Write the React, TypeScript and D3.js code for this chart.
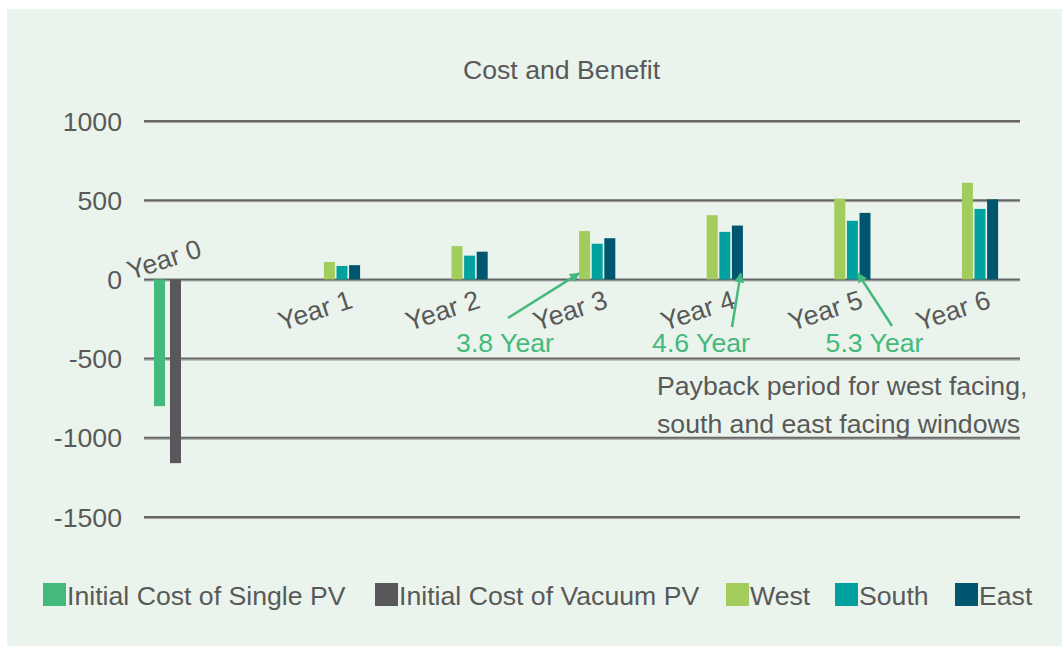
import React from "react";
import * as d3 from "d3";

// ---- data ----
const years = ["Year 1", "Year 2", "Year 3", "Year 4", "Year 5", "Year 6"];
const costLabel = "Year 0";
const costSeries = ["Initial Cost of Single PV", "Initial Cost of Vacuum PV"];
const costValues = [-800, -1160];
const benefitSeries = ["West", "South", "East"];
const westValues = [110, 210, 305, 405, 510, 610];
const southValues = [85, 150, 225, 300, 370, 445];
const eastValues = [90, 175, 260, 340, 420, 505];
const yTicks = [1000, 500, 0, -500, -1000, -1500];
const paybackLabels = ["3.8 Year", "4.6 Year", "5.3 Year"];
const paybackYears = ["Year 3", "Year 4", "Year 5"];
const paybackSeries = ["West", "East", "South"];
const noteLines = ["Payback period for west facing,", "south and east facing windows"];

const colors: Record<string, string> = {
  "Initial Cost of Single PV": "#43B97B",
  "Initial Cost of Vacuum PV": "#58585A",
  West: "#A2CD5C",
  South: "#00A19F",
  East: "#00566F",
};

const FONT = "'Liberation Sans', Arial, sans-serif";
const TEXT = "#595959";
const GREEN = "#43B97B";

export default function App() {
  const W = 1062;
  const H = 646;
  const left = 144;
  const right = 1020;

  const y = d3.scaleLinear().domain([-1500, 1000]).range([517, 121]);
  const x = d3.scalePoint<string>().domain(years).range([342, 980]);
  const inner = d3.scaleBand<string>().domain(benefitSeries).range([-18.1, 18.1]).paddingInner(0.127);
  const costX = d3.scaleBand<string>().domain(costSeries).range([154, 181]).paddingInner(0.3125);

  const benefitData: Record<string, number[]> = { West: westValues, South: southValues, East: eastValues };
  const y0 = y(0);

  const barX = (yr: string, s: string) => (x(yr) as number) + (inner(s) as number);

  // legend layout
  const legendItems = [...costSeries, ...benefitSeries];
  const legendX = [43, 375, 726, 835, 955];

  const arrowTails = [
    [508, 318],
    [732, 327],
    [892, 326],
  ];
  const arrowTargetsDx = [0, 0.8, 1];
  const labelMid = [505, 701, 874.5];

  return (
    <svg width={W} height={H} style={{ position: "absolute", left: 0, top: 0, fontFamily: FONT }}>
      <defs>
        <marker id="ah" viewBox="0 0 10 10" refX="9" refY="5" markerWidth="4" markerHeight="4" orient="auto">
          <path d="M0,0 L10,5 L0,10 z" fill={GREEN} />
        </marker>
      </defs>
      <rect x={0} y={0} width={W} height={H} fill="#ffffff" />
      <rect x={7} y={9} width={W - 7} height={H - 9} fill="#EAF4EC" />

      <text x={561.5} y={78.7} textAnchor="middle" fontSize={26.67} fill={TEXT}>
        Cost and Benefit
      </text>

      {yTicks.map((t) => (
        <g key={t}>
          <line x1={left} x2={right} y1={y(t) + 1.5} y2={y(t) + 1.5} stroke="#a3a3a3" strokeWidth={1} />
          <line x1={left} x2={right} y1={y(t)} y2={y(t)} stroke="#666666" strokeWidth={2} />
          <text x={122} y={y(t) + 9.5} textAnchor="end" fontSize={26.67} fill={TEXT}>
            {t}
          </text>
        </g>
      ))}

      {costSeries.map((s, i) => (
        <rect
          key={s}
          x={costX(s)}
          width={costX.bandwidth()}
          y={y(Math.max(0, costValues[i]))}
          height={Math.abs(y(costValues[i]) - y0)}
          fill={colors[s]}
        />
      ))}

      {benefitSeries.map((s) =>
        years.map((yr, i) => {
          const v = benefitData[s][i];
          return (
            <rect
              key={s + yr}
              x={barX(yr, s)}
              width={inner.bandwidth()}
              y={y(v)}
              height={y0 - y(v)}
              fill={colors[s]}
            />
          );
        })
      )}

      {/* category labels */}
      <text
        transform={`translate(${(costX(costSeries[1]) as number) + costX.bandwidth() + 22},${y0 - 23}) rotate(-18)`}
        textAnchor="end"
        fontSize={26.67}
        fill={TEXT}
      >
        {costLabel}
      </text>
      {years.map((yr) => (
        <text
          key={yr}
          transform={`translate(${(x(yr) as number) + 12},${y0 + 28}) rotate(-18)`}
          textAnchor="end"
          fontSize={26.67}
          fill={TEXT}
        >
          {yr}
        </text>
      ))}

      {/* payback annotations */}
      {paybackLabels.map((lab, i) => {
        const s = paybackSeries[i];
        const tx = barX(paybackYears[i], s) + inner.bandwidth() * arrowTargetsDx[i];
        const ty = y0 - 6;
        return (
          <g key={lab}>
            <line
              x1={arrowTails[i][0]}
              y1={arrowTails[i][1]}
              x2={tx}
              y2={ty}
              stroke={GREEN}
              strokeWidth={2.5}
              markerEnd="url(#ah)"
            />
            <text x={labelMid[i]} y={351.7} textAnchor="middle" fontSize={26.67} fill={GREEN}>
              {lab}
            </text>
          </g>
        );
      })}

      {noteLines.map((l, i) => (
        <text key={l} x={657} y={394.5 + i * 38.5} fontSize={26.67} fill={TEXT}>
          {l}
        </text>
      ))}

      {/* legend */}
      {legendItems.map((s, i) => (
        <g key={s}>
          <rect x={legendX[i]} y={583} width={23} height={23} fill={colors[s]} />
          <text x={legendX[i] + 24} y={605} fontSize={26.67} fill={TEXT}>
            {s}
          </text>
        </g>
      ))}
    </svg>
  );
}
